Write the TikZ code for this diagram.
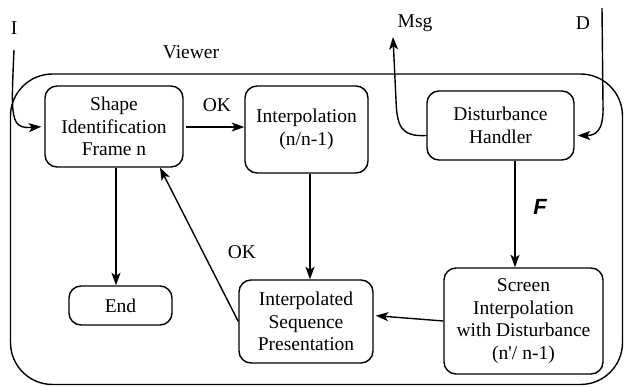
\documentclass[tikz,border=0pt]{standalone}
\usepackage{fontspec}
\setmainfont{Liberation Serif}[Ligatures=TeXOff]
\newfontfamily\flowsans{Liberation Sans}
\usetikzlibrary{arrows.meta}

\begin{document}
\begin{tikzpicture}[x=1pt,y=-1pt,line width=1.4pt,
  box/.style={draw,rounded corners=12pt,align=center,inner sep=0pt,
    font=\fontsize{19.5}{22.5}\selectfont},
  lbl/.style={inner sep=0pt,font=\fontsize{19.5}{22.5}\selectfont},
  arr/.style={-{Stealth[length=12.5pt,width=9pt,inset=3pt]}}]
\useasboundingbox (0,0) rectangle (624,387);

% viewer frame
\draw[rounded corners=42pt] (10.5,74) rectangle (622.5,384.5);
\node[lbl] (viewer) at (191,52) {Viewer};

% process boxes
\node[box,minimum width=138pt,minimum height=81pt] (shape) at (114,126.5)
  {Shape\\Identification\\Frame n};
\node[box,minimum width=123pt,minimum height=87pt] (interp) at (306.5,129.5)
  {Interpolation\\(n/n-1)};
\node[box,minimum width=147pt,minimum height=69pt] (dist) at (500.5,125.5)
  {Disturbance\\Handler};
\node[box,minimum width=103pt,minimum height=39pt] (end) at (120.5,305.5) {End};
\node[box,minimum width=134pt,minimum height=83pt] (isp) at (306,321.5)
  {Interpolated\\Sequence\\Presentation};
\node[box,minimum width=159pt,minimum height=106pt] (screen) at (523.5,321)
  {Screen\\Interpolation\\with Disturbance\\(n'/ n-1)};

% labels
\node[lbl] (ilbl) at (14,28) {I};
\node[lbl] (msg) at (415,23) {Msg};
\node[lbl] (dlbl) at (583,23) {D};
\node[lbl] (ok1) at (217,105) {OK};
\node[lbl] (ok2) at (242,252) {OK};
\node[inner sep=0pt,font=\flowsans\bfseries\itshape\fontsize{22}{24}\selectfont] (flbl) at (540,207) {F};

% free ends
\coordinate (itop) at (14,50);
\coordinate (msgend) at (393,37);
\coordinate (dtop) at (602,8);

% connectors
\draw[arr,shorten >=3pt] (itop) .. controls (11,118) and (10,129) .. (shape.west);
\draw[arr,shorten <=2pt] ([yshift=-0.5pt]shape.east) -- ([yshift=-0.5pt]shape.east -| interp.west);
\draw[arr] ([xshift=3.5pt]interp.south) -- ([xshift=3.5pt]interp.south |- isp.north);
\draw[arr] ([xshift=2pt]shape.south) -- ([xshift=2pt]shape.south |- end.north);
\draw[arr] (isp.west) -- ([xshift=46pt]shape.south);
\draw[arr] ([xshift=14.5pt]dist.south) -- ([xshift=14.5pt]dist.south |- screen.north);
\draw[arr,shorten >=2pt] (screen.west) -- ([yshift=6pt]isp.east);
\draw[arr] ([yshift=-10pt]dist.west) .. controls (400,137) and (397,125) .. (396,100) -- (msgend);
\draw[arr,shorten >=3pt] (dtop) -- (603,105) .. controls (604,132) and (595,135.5) .. ([yshift=-10pt]dist.east);
\end{tikzpicture}
\end{document}
